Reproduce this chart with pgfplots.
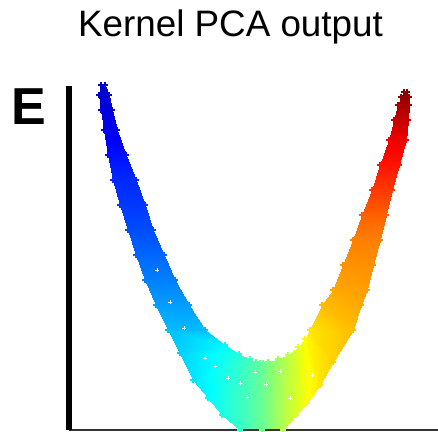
\documentclass[border=0pt]{standalone}
\usepackage{fontspec}
\setmainfont{Liberation Sans}
\usepackage{pgfplots}
\usepackage{pgfplotstable}
\pgfplotsset{compat=1.18}

% band outline: for each cross-section, outer edge then inner edge (x, y, colour value)
\pgfplotstableread[row sep=\\]{
x y c\\
101 345 0.08\\
105 345 0.08\\
99 335 0.08\\
109 335 0.08\\
101 320 0.09\\
112 320 0.09\\
104 300 0.11\\
117 300 0.11\\
108 275 0.14\\
126 275 0.14\\
113 250 0.165\\
136 250 0.165\\
120 225 0.18\\
145 225 0.18\\
128 200 0.20\\
153 200 0.20\\
136 175 0.225\\
164 175 0.225\\
145 150 0.25\\
175 150 0.25\\
156 125 0.28\\
189 125 0.28\\
168 100 0.31\\
205 100 0.31\\
180 77 0.33\\
225 85 0.37\\
193 50 0.35\\
239 76 0.41\\
208 32 0.37\\
250 71 0.44\\
222 15 0.40\\
256 68 0.46\\
240 0 0.43\\
260 67 0.47\\
262 0 0.48\\
263 67 0.48\\
283 0 0.55\\
268 68 0.50\\
296 15 0.59\\
278 71 0.53\\
307 27 0.62\\
288 75 0.56\\
320 45 0.65\\
298 83 0.60\\
333 68 0.67\\
305 91 0.63\\
353 100 0.69\\
310 100 0.65\\
361 125 0.71\\
322 125 0.69\\
367 140 0.72\\
333 140 0.71\\
373 165 0.735\\
343 165 0.73\\
380 190 0.75\\
353 190 0.75\\
386 215 0.78\\
362 215 0.78\\
392 240 0.82\\
372 240 0.82\\
399 265 0.855\\
380 265 0.855\\
406 290 0.89\\
389 290 0.89\\
408 310 0.93\\
394 310 0.93\\
409 325 0.96\\
398 325 0.96\\
409 333 0.98\\
401 333 0.98\\
407 338 0.99\\
404 338 0.99\\
}\verts

% gaps between the points inside the band
\pgfplotstableread[row sep=\\]{
x y\\
215 64\\
240 47\\
266 46\\
247 33\\
280 59\\
290 32\\
157 160\\
170 128\\
184 102\\
205 72\\
228 52\\
255 58\\
312 55\\
}\holes

\begin{document}
\begin{tikzpicture}
\useasboundingbox (0,0) rectangle (438pt,431pt);
\begin{axis}[
  at={(69pt,1pt)}, anchor=south west,
  scale only axis, width=369pt, height=344pt,
  xmin=69, xmax=438, ymin=0, ymax=344,
  clip=false,
  axis on top,
  axis x line=bottom, axis y line=left,
  axis line style={-},
  x axis line style={line width=2.5pt, draw=black!80},
  y axis line style={line width=6pt, draw=black},
  xtick=\empty, ytick=\empty,
  colormap/jet,
  point meta min=0, point meta max=1,
]
\addplot[patch, shader=interp, point meta=explicit, table/row sep=\\,
  patch table={
0 1 3\\ 0 3 2\\
2 3 5\\ 2 5 4\\
4 5 7\\ 4 7 6\\
6 7 9\\ 6 9 8\\
8 9 11\\ 8 11 10\\
10 11 13\\ 10 13 12\\
12 13 15\\ 12 15 14\\
14 15 17\\ 14 17 16\\
16 17 19\\ 16 19 18\\
18 19 21\\ 18 21 20\\
20 21 23\\ 20 23 22\\
22 23 25\\ 22 25 24\\
24 25 27\\ 24 27 26\\
26 27 29\\ 26 29 28\\
28 29 31\\ 28 31 30\\
30 31 33\\ 30 33 32\\
32 33 35\\ 32 35 34\\
34 35 37\\ 34 37 36\\
36 37 39\\ 36 39 38\\
38 39 41\\ 38 41 40\\
40 41 43\\ 40 43 42\\
42 43 45\\ 42 45 44\\
44 45 47\\ 44 47 46\\
46 47 49\\ 46 49 48\\
48 49 51\\ 48 51 50\\
50 51 53\\ 50 53 52\\
52 53 55\\ 52 55 54\\
54 55 57\\ 54 57 56\\
56 57 59\\ 56 59 58\\
58 59 61\\ 58 61 60\\
60 61 63\\ 60 63 62\\
62 63 65\\ 62 65 64\\
64 65 67\\ 64 67 66\\
66 67 69\\ 66 69 68\\
68 69 71\\ 68 71 70\\
  }]
  table[x=x, y=y, meta=c] {\verts};
\addplot[only marks, mark=+, mark size=2.2pt, line width=1pt, white]
  table[x=x, y=y] {\holes};
\addplot[scatter, only marks, mark=+, mark size=2.6pt, line width=1.1pt,
  point meta=explicit, scatter/use mapped color={draw=mapped color, fill=mapped color}]
  table[x=x, y=y, meta=c] {\verts};
\end{axis}
\node[anchor=base, font=\fontsize{36.8}{40}\selectfont] at (230.5pt,394pt) {Kernel PCA output};
\node[anchor=base west, inner sep=0pt, font=\fontsize{52}{56}\selectfont\bfseries] at (10.9pt,306pt) {E};
\end{tikzpicture}
\end{document}
